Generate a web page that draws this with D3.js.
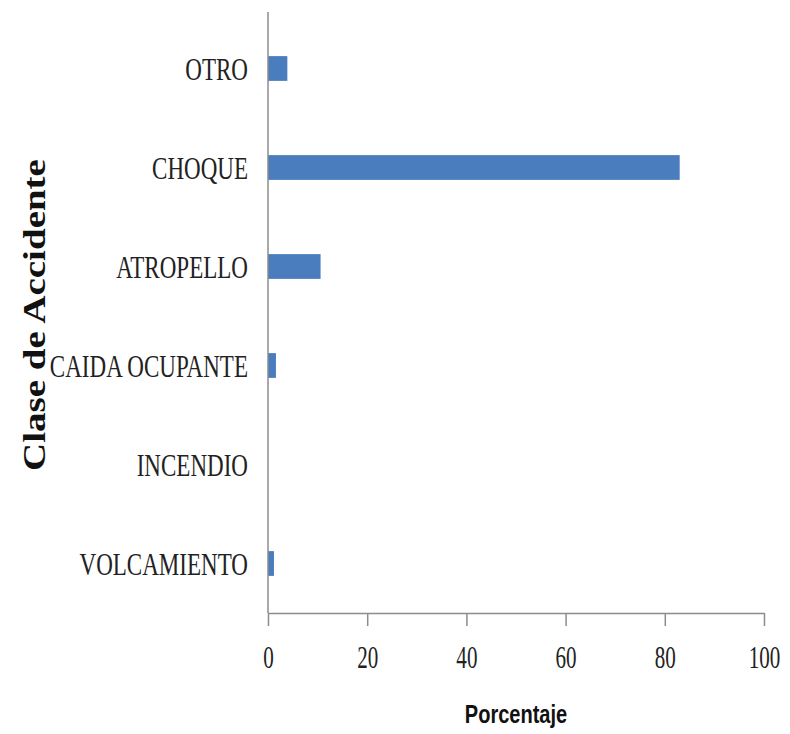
<!DOCTYPE html>
<html>
<head>
<meta charset="utf-8">
<script src="https://cdn.jsdelivr.net/npm/d3@7"></script>
<style>
  html, body { margin: 0; padding: 0; background: #ffffff; }
  svg { display: block; }
</style>
</head>
<body>
<svg id="chart" width="790" height="734"></svg>
<script>
// Data (top to bottom in the chart)
const categories = ["OTRO", "CHOQUE", "ATROPELLO", "CAIDA OCUPANTE", "INCENDIO", "VOLCAMIENTO"];
const values = [3.9, 83.0, 10.6, 1.6, 0, 1.2];
const xTicks = [0, 20, 40, 60, 80, 100];
const xTitle = "Porcentaje";
const yTitle = "Clase de Accidente";

(function () {
const svg = d3.select("#chart");
const plotLeft = 268, plotRight = 764, plotTop = 19, plotBottom = 613;
const sx = 0.8; // horizontal squeeze of the original picture

const x = d3.scaleLinear().domain([0, 100]).range([plotLeft, plotRight]);
const y = d3.scaleBand().domain(categories).range([plotTop, plotBottom])
  .paddingInner(0.75).paddingOuter(0.375);

const axisColor = "#8c8c8c";

// Bars
svg.append("g").selectAll("rect")
  .data(categories.map((c, i) => ({ c, v: values[i] })))
  .join("rect")
  .attr("x", x(0))
  .attr("y", d => y(d.c))
  .attr("width", d => x(d.v) - x(0))
  .attr("height", y.bandwidth())
  .attr("fill", "#4a7dbd");

// X axis
const gx = svg.append("g")
  .attr("transform", `translate(0,${plotBottom})`)
  .call(d3.axisBottom(x).tickValues(xTicks).tickSize(13).tickPadding(0).tickSizeOuter(0));
gx.select(".domain").attr("stroke", axisColor).attr("stroke-width", 1.5);
gx.selectAll(".tick line").attr("stroke", axisColor).attr("stroke-width", 1.5);
gx.selectAll(".tick text")
  .attr("font-family", "'Liberation Serif', 'Times New Roman', serif")
  .attr("font-size", 31)
  .attr("fill", "#222")
  .attr("y", 0).attr("dy", 0)
  .attr("transform", "translate(0,55) scale(0.68,1)");

// Y axis
const gy = svg.append("g")
  .attr("transform", `translate(${plotLeft},0)`)
  .call(d3.axisLeft(y).tickSize(0).tickPadding(0).tickSizeOuter(0));
gy.select(".domain").attr("stroke", axisColor).attr("stroke-width", 1.5)
  .attr("d", `M0,12V${plotBottom}`);
gy.selectAll(".tick text")
  .attr("font-family", "'Liberation Serif', 'Times New Roman', serif")
  .attr("font-size", 32)
  .attr("fill", "#222")
  .attr("x", 0).attr("dy", "0.35em")
  .attr("transform", "translate(-20,0) scale(0.72,1)");

// X title
svg.append("text")
  .attr("transform", `translate(${(plotLeft + plotRight) / 2},${723}) scale(0.77,1)`)
  .attr("text-anchor", "middle")
  .attr("font-family", "'Liberation Sans', Arial, sans-serif")
  .attr("font-weight", "bold")
  .attr("font-size", 26)
  .attr("fill", "#111")
  .text(xTitle);

// Y title
svg.append("text")
  .attr("transform", `translate(${45},${315}) scale(${sx},1) rotate(-90)`)
  .attr("text-anchor", "middle")
  .attr("font-family", "'Liberation Serif', 'Times New Roman', serif")
  .attr("font-weight", "bold")
  .attr("font-size", 39)
  .attr("fill", "#111")
  .text(yTitle);
})();
</script>
</body>
</html>
